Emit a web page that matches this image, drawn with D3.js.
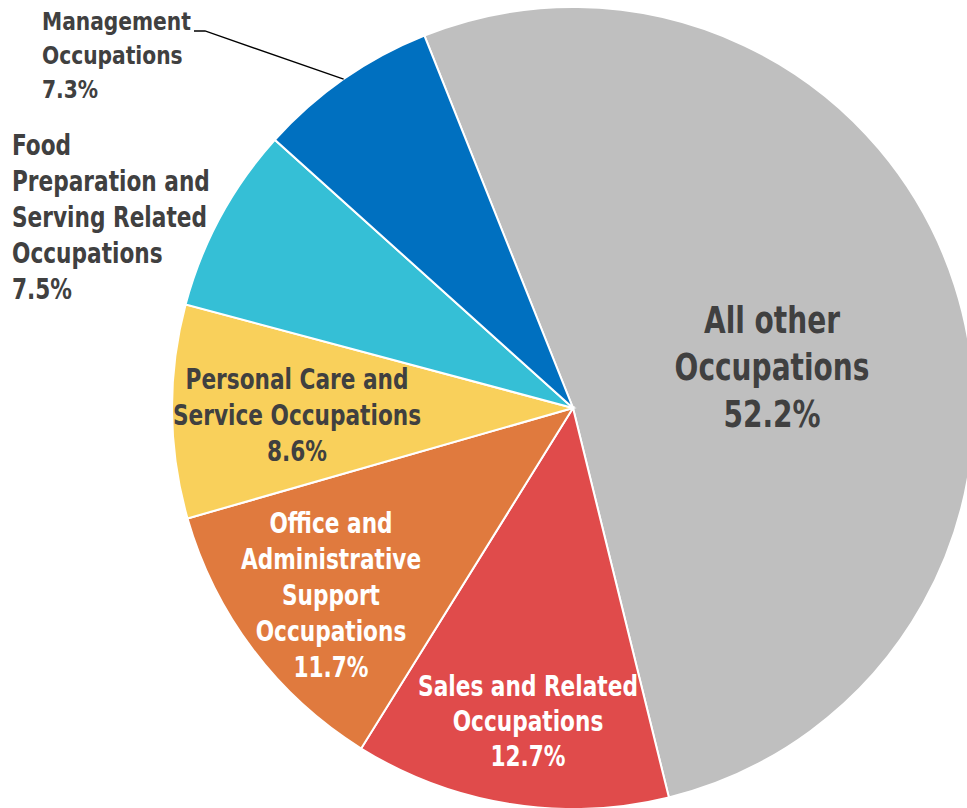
<!DOCTYPE html>
<html>
<head>
<meta charset="utf-8">
<script src="https://cdn.jsdelivr.net/npm/d3@7"></script>
<style>
  body { margin: 0; background: #fff; }
  svg { display: block; }
  text { font-family: "Liberation Sans Narrow", "DejaVu Sans Condensed", "Roboto", sans-serif; font-weight: bold; }
</style>
</head>
<body>
<svg width="967" height="808"></svg>
<script>
// data
var categories = ["All other Occupations", "Sales and Related Occupations", "Office and Administrative Support Occupations",
    "Personal Care and Service Occupations", "Food Preparation and Serving Related Occupations", "Management Occupations"];
var shares = [52.2, 12.7, 11.7, 8.6, 7.5, 7.3];
var labelLines = [
    ["All other", "Occupations"],
    ["Sales and Related", "Occupations"],
    ["Office and", "Administrative", "Support", "Occupations"],
    ["Personal Care and", "Service Occupations"],
    ["Food", "Preparation and", "Serving Related", "Occupations"],
    ["Management", "Occupations"]
];
var colors = ["#bfbfbf", "#e04b4b", "#e07a3e", "#f9d05b", "#35bfd6", "#0070c0"];

var cx = 573, cy = 408, radius = 401;
var start = -21.75 * Math.PI / 180;

// label layout: offset from centre, font size, horizontal squeeze, line height, anchor, fill
var labelLayout = [
    { dx: 199, dy: -41, size: 38, sx: 0.82, lh: 47, anchor: "middle", fill: "#404040" },
    { dx: -45, dy: 313, size: 28, sx: 0.86, lh: 35, anchor: "middle", fill: "#ffffff" },
    { dx: -242, dy: 187, size: 28, sx: 0.86, lh: 36, anchor: "middle", fill: "#ffffff" },
    { dx: -276, dy: 7, size: 28, sx: 0.86, lh: 36, anchor: "middle", fill: "#404040" },
    { x: 12, y: 145, size: 28, sx: 0.86, lh: 36, anchor: "start", fill: "#404040" },
    { x: 42, y: 22, size: 25, sx: 0.9, lh: 34, anchor: "start", fill: "#404040" }
];

var svg = d3.select("svg");
var g = svg.append("g").attr("transform", "translate(" + cx + "," + cy + ")");

var pie = d3.pie().sort(null).startAngle(start).endAngle(start + 2 * Math.PI);
var arcs = pie(shares);
var arc = d3.arc().innerRadius(0).outerRadius(radius);

g.selectAll("path.slice")
    .data(arcs)
    .enter()
        .append("path")
        .attr("class", "slice")
        .attr("d", arc)
        .attr("fill", function(d, i) { return colors[i]; })
        .attr("stroke", "#fff")
        .attr("stroke-width", 2);

// leader line for management
var mgmt = arcs[5];
var mid = (mgmt.startAngle + mgmt.endAngle) / 2;
var px = cx + radius * Math.sin(mid), py = cy - radius * Math.cos(mid);
svg.append("polyline")
    .attr("points", px + "," + py + " 205,31 194,31")
    .attr("fill", "none")
    .attr("stroke", "#000")
    .attr("stroke-width", 1.3);

labelLayout.forEach(function(L, i) {
    var lines = labelLines[i].concat([d3.format(".1f")(shares[i]) + "%"]);
    var n = lines.length;
    var ax = L.anchor == "middle" ? cx + L.dx : L.x;
    var t = svg.append("text")
        .attr("text-anchor", L.anchor)
        .attr("fill", L.fill)
        .attr("transform", "translate(" + ax + ",0) scale(" + L.sx + ",1)")
        .style("font-size", L.size + "px");
    lines.forEach(function(s, j) {
        var y = L.anchor == "middle" ? cy + L.dy + (j - (n - 1) / 2) * L.lh : L.y + j * L.lh;
        t.append("tspan")
            .attr("x", 0)
            .attr("y", y)
            .attr("dominant-baseline", "central")
            .text(s);
    });
});
</script>
</body>
</html>
